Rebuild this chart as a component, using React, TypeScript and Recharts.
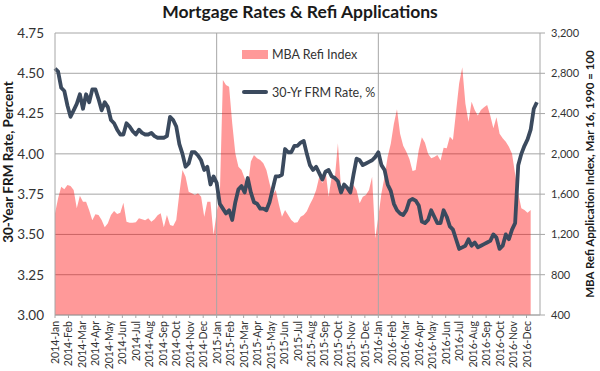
import React from "react"
import {
  ComposedChart,
  Area,
  Line,
  XAxis,
  YAxis,
  CartesianGrid,
  ReferenceLine,
} from "recharts"

// weekly observations, Jan 2014 - Dec 2016 (156 weeks)
const frmRate = [
  4.53, 4.51, 4.41, 4.39, 4.3, 4.23, 4.27, 4.31, 4.37, 4.28, 4.37, 4.32, 4.4, 4.4,
  4.34, 4.27, 4.32, 4.29, 4.21, 4.19, 4.15, 4.12, 4.12, 4.19, 4.17, 4.14, 4.12, 4.15,
  4.13, 4.12, 4.12, 4.13, 4.11, 4.1, 4.1, 4.1, 4.11, 4.23, 4.21, 4.17, 4.06, 4.0,
  3.92, 3.94, 4.01, 4.01, 3.99, 3.96, 3.9, 3.92, 3.81, 3.86, 3.82, 3.69, 3.66, 3.63,
  3.65, 3.59, 3.7, 3.78, 3.8, 3.76, 3.85, 3.76, 3.7, 3.69, 3.66, 3.66, 3.65, 3.7,
  3.78, 3.86, 3.86, 3.87, 4.03, 4.01, 4.01, 4.05, 4.05, 4.07, 4.08, 4.0, 3.93, 3.9,
  3.92, 3.88, 3.84, 3.89, 3.9, 3.86, 3.85, 3.83, 3.76, 3.81, 3.79, 3.76, 3.87, 3.97,
  3.96, 3.93, 3.94, 3.95, 3.96, 3.98, 4.01, 3.93, 3.9, 3.81, 3.77, 3.69, 3.65, 3.63,
  3.62, 3.65, 3.71, 3.72, 3.71, 3.68, 3.58, 3.57, 3.59, 3.65, 3.61, 3.57, 3.57, 3.65,
  3.61, 3.55, 3.53, 3.47, 3.41, 3.42, 3.43, 3.47, 3.43, 3.45, 3.42, 3.43, 3.44, 3.45,
  3.46, 3.5, 3.48, 3.41, 3.43, 3.5, 3.47, 3.53, 3.57, 3.93, 4.0, 4.05, 4.09, 4.15,
  4.28, 4.32,
]

const refiIndex = [
  1410, 1560, 1674, 1648, 1691, 1680, 1640, 1460, 1585, 1525, 1525, 1440, 1340, 1400,
  1393, 1344, 1271, 1310, 1393, 1433, 1403, 1416, 1515, 1327, 1317, 1317, 1320, 1360,
  1350, 1340, 1360, 1327, 1350, 1390, 1410, 1271, 1393, 1294, 1284, 1344, 1608, 1840,
  1773, 1625, 1608, 1592, 1608, 1575, 1376, 1525, 1525, 1195, 1426, 1575, 2733, 2684,
  2667, 2304, 2006, 1873, 1840, 1757, 1674, 1923, 1989, 1956, 1940, 1906, 1840, 1708,
  1592, 1641, 1500, 1376, 1443, 1393, 1344, 1317, 1320, 1376, 1393, 1430, 1500, 1560,
  1641, 1773, 1708, 1840, 1575, 1773, 1757, 2105, 1660, 1700, 1641, 1674, 1691, 1641,
  1509, 1575, 1592, 1641, 1773, 1162, 1376, 1608, 1773, 1972, 2100, 2300, 2442, 2200,
  2080, 2020, 1950, 1830, 1840, 2038, 2165, 2110, 2000, 1956, 1970, 1989, 1934, 2060,
  2056, 2171, 2138, 2420, 2700, 2860, 2500, 2320, 2518, 2436, 2380, 2436, 2462, 2485,
  2380, 2254, 2363, 2200, 2155, 2120, 2070, 2000, 1800, 1608, 1460, 1443, 1416, 1443,
  null, null,
]

const monthLabels = [2014, 2015, 2016].flatMap((y) =>
  ["Jan", "Feb", "Mar", "Apr", "May", "Jun", "Jul", "Aug", "Sep", "Oct", "Nov", "Dec"].map(
    (m) => `${y}-${m}`
  )
)

const rateTicks = [3.0, 3.25, 3.5, 3.75, 4.0, 4.25, 4.5, 4.75]
const refiTicks = [400, 800, 1200, 1600, 2000, 2400, 2800, 3200]
const yearStarts = [52, 104]

const WEEKS_PER_MONTH = 52 / 12
const monthTicks = monthLabels.map((_, i) => i * WEEKS_PER_MONTH)

const data = frmRate.map((rate, i) => ({ week: i, rate, refi: refiIndex[i] }))

const FONT = "Lato, 'Open Sans', sans-serif"
const GRID = "#a6a6a6"
const LINE = "#3b4a5e"

function MonthTick({ x, y, payload }: any) {
  const label = monthLabels[Math.round(payload.value / WEEKS_PER_MONTH)]
  return (
    <text
      x={x}
      y={y}
      transform={`rotate(-90 ${x} ${y})`}
      textAnchor="end"
      dominantBaseline="central"
      fontSize={10.5}
      fontFamily={FONT}
      fill="#333"
    >
      {label}
    </text>
  )
}

export default function App() {
  return (
    <div
      style={{
        position: "absolute",
        left: 0,
        top: 0,
        width: 600,
        height: 371,
        background: "#fff",
        fontFamily: FONT,
      }}
    >
      <div
        style={{
          position: "absolute",
          top: 1,
          width: 600,
          textAlign: "center",
          fontSize: 17.5,
          fontWeight: 700,
          color: "#1a1a1a",
        }}
      >
        Mortgage Rates &amp; Refi Applications
      </div>

      <ComposedChart
        width={600}
        height={371}
        data={data}
        margin={{ top: 33, right: 0, bottom: 0, left: 0 }}
      >
        <CartesianGrid yAxisId="left" vertical={false} stroke={GRID} />
        <XAxis
          dataKey="week"
          type="number"
          domain={[0, 156]}
          ticks={monthTicks}
          interval={0}
          height={56}
          tick={<MonthTick />}
          tickSize={3}
          tickMargin={3}
          axisLine={{ stroke: GRID }}
          tickLine={{ stroke: GRID }}
        />
        <YAxis
          yAxisId="left"
          width={55}
          domain={[3, 4.75]}
          ticks={rateTicks}
          tickFormatter={(v: number) => v.toFixed(2)}
          tick={{ fontSize: 13.5, fill: "#333", fontFamily: FONT }}
          tickLine={false}
          tickSize={0}
          tickMargin={11}
          axisLine={{ stroke: GRID }}
        />
        <YAxis
          yAxisId="right"
          orientation="right"
          width={60}
          domain={[400, 3200]}
          ticks={refiTicks}
          tickFormatter={(v: number) => v.toLocaleString("en-US")}
          tick={{ fontSize: 11, fill: "#333", fontFamily: FONT, textAnchor: "start" }}
          tickSize={5}
          tickMargin={6}
          tickLine={{ stroke: GRID }}
          axisLine={{ stroke: GRID }}
        />
        {yearStarts.map((w) => (
          <ReferenceLine key={w} x={w} yAxisId="left" stroke={GRID} />
        ))}
        <Area
          yAxisId="right"
          dataKey="refi"
          type="linear"
          fill="#ff0000"
          fillOpacity={0.4}
          stroke="none"
          isAnimationActive={false}
        />
        <Line
          yAxisId="left"
          dataKey="rate"
          type="linear"
          stroke={LINE}
          strokeWidth={3.8}
          strokeLinejoin="round"
          dot={false}
          isAnimationActive={false}
        />
      </ComposedChart>

      {/* legend, inside the plot near the top */}
      <div
        style={{
          position: "absolute",
          left: 242,
          top: 44,
          fontSize: 12.5,
          color: "#333",
        }}
      >
        <div style={{ display: "flex", alignItems: "center", height: 20 }}>
          <span style={{ width: 26, height: 9, background: "rgba(255,0,0,0.4)", marginRight: 4 }} />
          MBA Refi Index
        </div>
        <div style={{ display: "flex", alignItems: "center", height: 20, marginTop: 18 }}>
          <span style={{ width: 26, height: 4, background: LINE, marginRight: 4, borderRadius: 2 }} />
          30-Yr FRM Rate, %
        </div>
      </div>

      <div
        style={{
          position: "absolute",
          left: 8,
          top: 162,
          transform: "translate(-50%, -50%) rotate(-90deg)",
          whiteSpace: "nowrap",
          fontSize: 13.5,
          fontWeight: 700,
          color: "#1a1a1a",
        }}
      >
        30-Year FRM Rate, Percent
      </div>
      <div
        style={{
          position: "absolute",
          left: 589,
          top: 174,
          transform: "translate(-50%, -50%) rotate(-90deg)",
          whiteSpace: "nowrap",
          fontSize: 11.5,
          fontWeight: 700,
          color: "#1a1a1a",
        }}
      >
        MBA Refi Application Index, Mar 16, 1990 = 100
      </div>
    </div>
  )
}
